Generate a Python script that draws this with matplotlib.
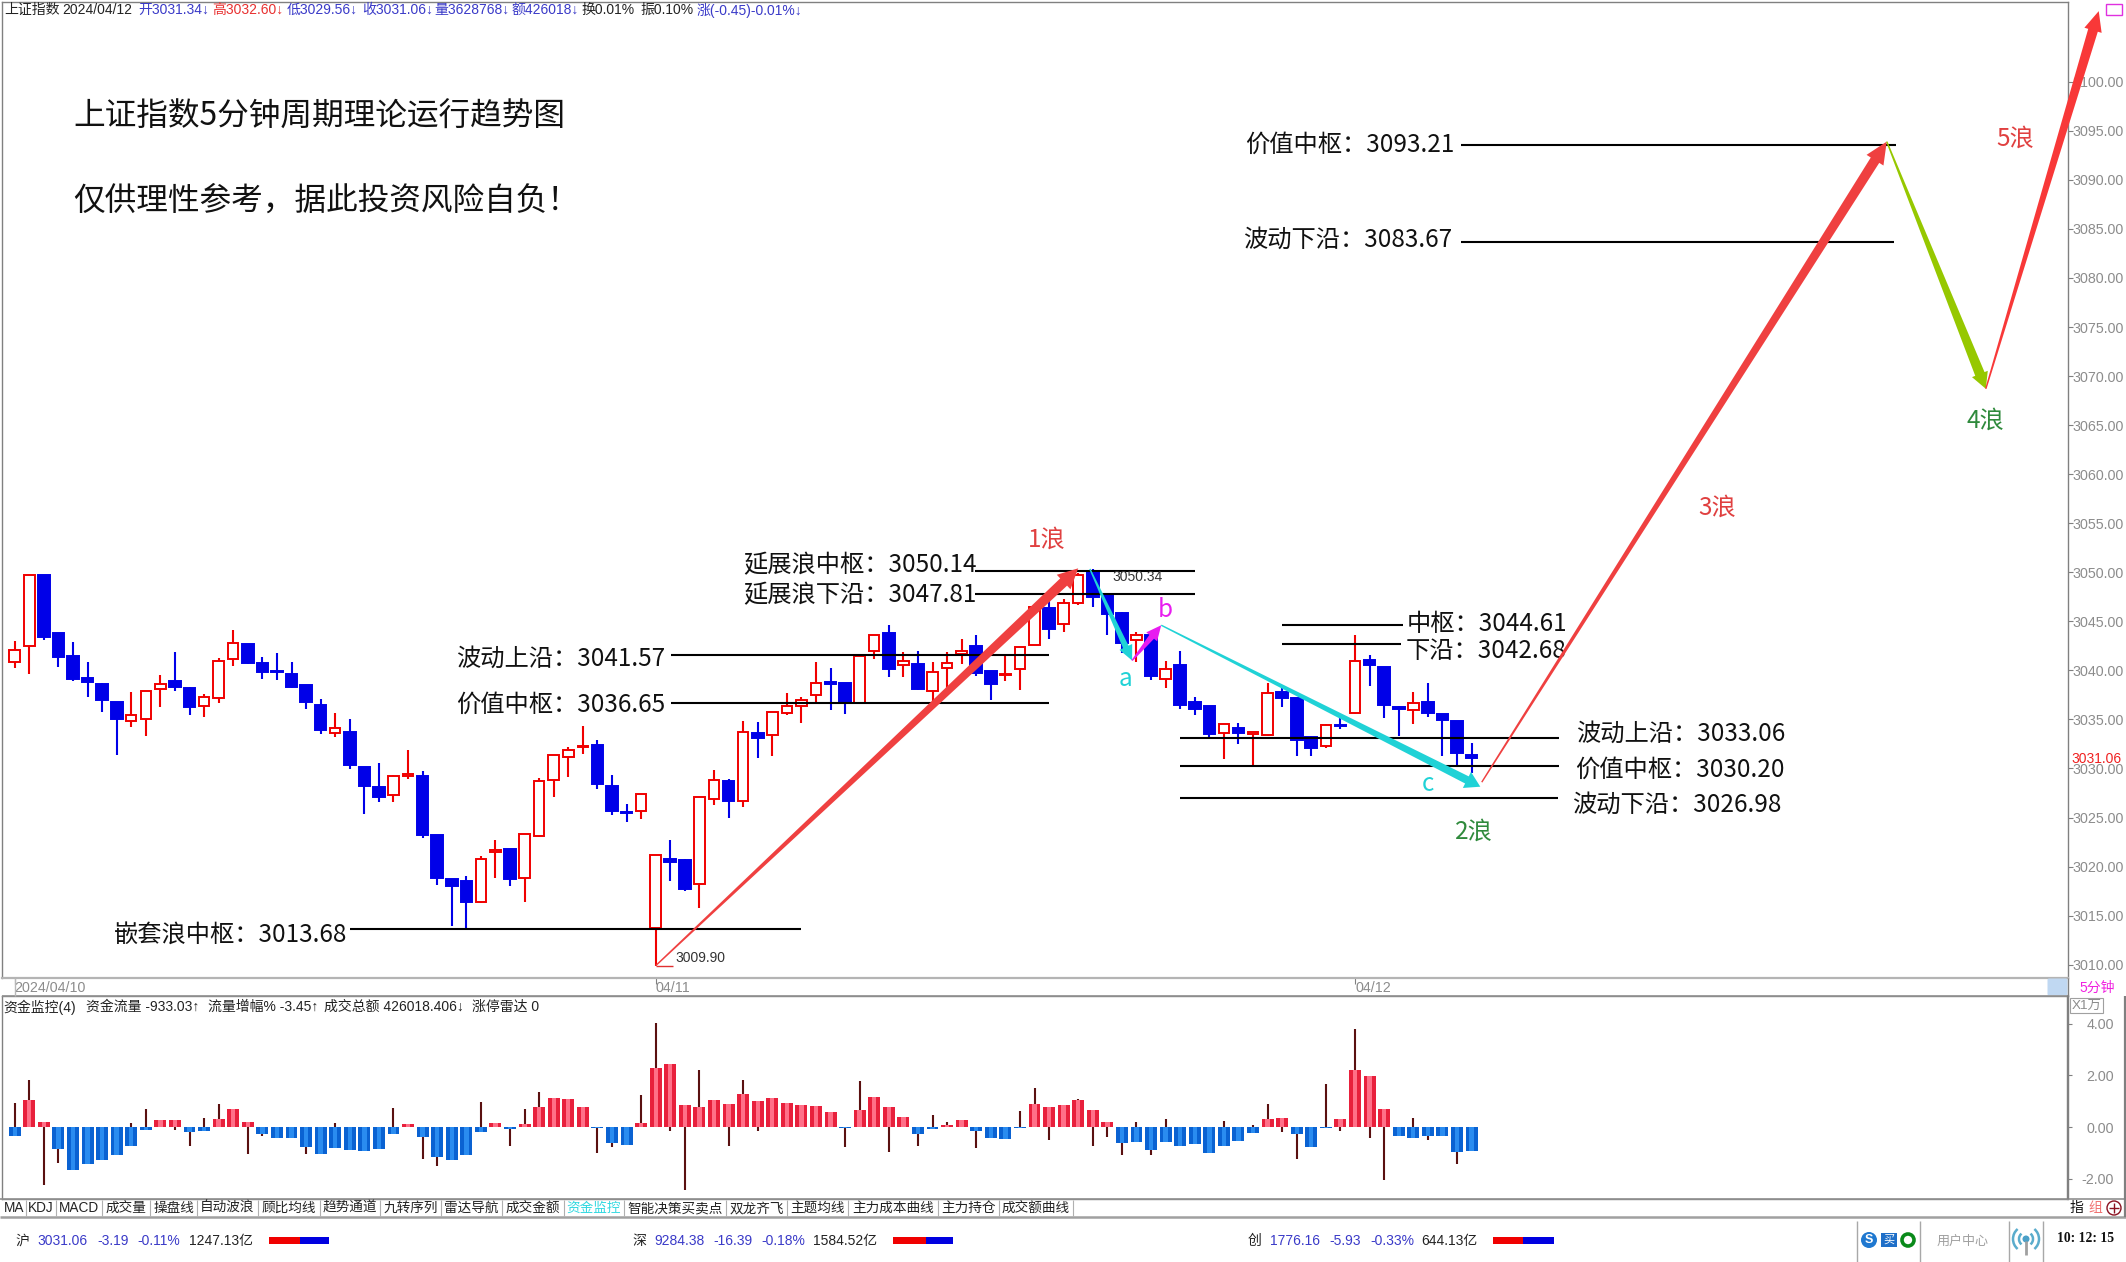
import numpy as np
import matplotlib
matplotlib.use("Agg")
import matplotlib.pyplot as plt
from matplotlib.patches import Polygon, Rectangle, Circle, Arc, FancyBboxPatch

# 5 minute candles
opens = [3040.89, 3042.48, 3049.72, 3043.78, 3041.50, 3039.19, 3038.58, 3036.74, 3034.87, 3035.04,
         3038.07, 3038.88, 3038.17, 3036.37, 3037.18, 3041.19, 3042.69, 3040.79, 3039.90, 3039.66,
         3038.47, 3036.47, 3033.62, 3033.75, 3030.15, 3028.14, 3027.33, 3029.20, 3029.23, 3023.22,
         3018.70, 3018.49, 3016.42, 3021.52, 3021.82, 3018.80, 3023.08, 3028.82, 3031.14, 3032.15,
         3032.43, 3028.25, 3025.53, 3025.63, 3013.70, 3020.81, 3020.64, 3018.22, 3026.92, 3028.76,
         3026.72, 3033.58, 3033.45, 3035.62, 3036.37, 3037.46, 3038.78, 3038.68, 3036.64, 3041.97,
         3043.78, 3040.55, 3040.68, 3037.93, 3040.21, 3041.70, 3042.48, 3039.97, 3039.53, 3040.17,
         3042.62, 3046.39, 3044.73, 3046.87, 3049.99, 3047.68, 3045.81, 3043.10, 3043.61, 3039.12,
         3040.58, 3036.74, 3036.37, 3033.65, 3034.13, 3033.51, 3033.41, 3037.83, 3037.15, 3033.24,
         3032.26, 3034.43, 3035.69, 3041.06, 3040.38, 3036.27, 3035.99, 3036.74, 3035.52, 3034.84,
         3031.34]
closes = [3042.08, 3049.69, 3043.40, 3041.33, 3039.12, 3038.85, 3037.01, 3035.01, 3035.42, 3037.93,
          3038.64, 3038.30, 3036.30, 3037.32, 3040.96, 3042.82, 3040.79, 3039.83, 3039.80, 3038.30,
          3036.78, 3033.89, 3034.13, 3030.35, 3028.18, 3027.06, 3029.23, 3029.40, 3023.25, 3018.83,
          3018.05, 3016.42, 3020.77, 3021.69, 3018.73, 3023.29, 3028.72, 3031.41, 3031.92, 3032.32,
          3028.38, 3025.70, 3025.43, 3027.40, 3021.18, 3020.47, 3017.71, 3027.13, 3028.79, 3026.68,
          3033.72, 3033.11, 3035.72, 3036.40, 3037.01, 3038.75, 3038.58, 3036.74, 3041.46, 3043.64,
          3040.14, 3040.96, 3038.10, 3039.83, 3040.79, 3042.01, 3039.70, 3038.64, 3039.63, 3042.42,
          3046.49, 3044.25, 3046.87, 3049.72, 3047.45, 3045.75, 3042.76, 3043.64, 3039.43, 3040.17,
          3036.50, 3036.10, 3033.48, 3034.50, 3033.62, 3033.68, 3037.73, 3037.15, 3032.90, 3032.09,
          3034.43, 3034.30, 3040.96, 3040.51, 3036.50, 3036.10, 3036.64, 3035.69, 3034.94, 3031.61,
          3031.06]
highs = [3042.99, 3049.69, 3049.72, 3043.78, 3042.89, 3040.89, 3038.75, 3036.74, 3037.76, 3037.93,
         3039.49, 3041.91, 3038.30, 3037.56, 3041.23, 3044.08, 3042.69, 3041.40, 3041.80, 3040.89,
         3038.47, 3037.05, 3035.65, 3035.04, 3030.15, 3030.56, 3029.30, 3031.85, 3029.74, 3023.22,
         3018.70, 3019.04, 3021.08, 3022.71, 3021.82, 3023.29, 3028.99, 3031.41, 3032.15, 3034.36,
         3032.87, 3029.33, 3026.34, 3027.40, 3021.18, 3022.71, 3020.81, 3027.13, 3029.84, 3028.89,
         3034.87, 3034.77, 3035.72, 3037.66, 3037.32, 3040.82, 3040.21, 3038.68, 3041.57, 3043.64,
         3044.63, 3041.91, 3041.97, 3040.85, 3041.91, 3043.20, 3043.57, 3039.97, 3041.57, 3042.42,
         3046.66, 3047.17, 3047.24, 3049.89, 3050.34, 3047.85, 3045.92, 3043.88, 3043.95, 3040.96,
         3042.01, 3037.29, 3036.37, 3034.50, 3034.60, 3033.68, 3038.68, 3038.17, 3037.15, 3033.34,
         3034.53, 3035.11, 3043.57, 3041.57, 3040.38, 3036.40, 3037.83, 3038.68, 3035.52, 3034.84,
         3032.60]
lows = [3040.21, 3039.63, 3043.13, 3040.31, 3038.92, 3037.32, 3035.79, 3031.37, 3034.19, 3033.31,
        3036.30, 3037.93, 3035.48, 3035.21, 3036.64, 3040.45, 3040.65, 3039.12, 3039.02, 3038.20,
        3036.10, 3033.48, 3033.21, 3029.98, 3025.36, 3026.55, 3026.58, 3028.96, 3022.88, 3018.12,
        3013.94, 3013.64, 3016.32, 3018.83, 3018.05, 3016.42, 3022.98, 3027.06, 3029.16, 3031.51,
        3027.87, 3025.26, 3024.54, 3024.88, 3009.90, 3018.56, 3017.54, 3015.74, 3026.28, 3024.98,
        3026.11, 3031.07, 3031.27, 3035.42, 3034.60, 3036.78, 3035.96, 3035.59, 3036.54, 3041.13,
        3039.32, 3039.32, 3038.03, 3036.81, 3038.17, 3040.65, 3039.43, 3036.98, 3038.92, 3038.00,
        3042.55, 3043.23, 3043.91, 3046.66, 3046.49, 3043.61, 3041.74, 3040.89, 3039.02, 3038.24,
        3036.10, 3035.48, 3033.24, 3030.97, 3032.49, 3030.29, 3033.31, 3036.30, 3031.27, 3031.27,
        3032.05, 3034.02, 3035.52, 3038.41, 3035.11, 3033.31, 3034.53, 3035.28, 3031.31, 3030.29,
        3029.56]

# lower panel, 资金监控
flow = [-0.35, 1.06, 0.19, -0.85, -1.67, -1.42, -1.27, -1.09, -0.74, -0.12,
        0.27, 0.27, -0.19, -0.17, 0.31, 0.68, 0.19, -0.27, -0.44, -0.44,
        -0.78, -1.05, -0.83, -0.89, -0.94, -0.85, -0.28, 0.12, -0.39, -1.15,
        -1.28, -1.09, -0.21, 0.16, -0.08, 0.12, 0.76, 1.11, 1.07, 0.76,
        -0.04, -0.62, -0.70, 0.14, 2.29, 2.44, 0.84, 0.76, 1.03, 0.88,
        1.29, 0.99, 1.11, 0.92, 0.84, 0.80, 0.58, -0.03, 0.65, 1.15,
        0.76, 0.37, -0.27, -0.08, 0.08, 0.27, -0.16, -0.44, -0.47, -0.03,
        0.88, 0.76, 0.84, 1.03, 0.65, 0.19, -0.62, -0.58, -0.89, -0.58,
        -0.74, -0.66, -1.01, -0.74, -0.54, -0.23, 0.31, 0.35, -0.27, -0.78,
        -0.03, 0.31, 2.21, 1.98, 0.68, -0.35, -0.43, -0.35, -0.35, -0.96,
        -0.93]
flow_line = [0.92, 1.82, -2.25, -1.41, 0, 0, 0, 0, 0.14, 0.68,
             0, -0.12, -0.74, 0.34, 0.88, 0, -1.03, -0.34, 0, 0,
             -1.03, 0, 0.14, 0, 0, 0, 0.72, 0, -1.23, -1.50,
             0, 0, 0.98, 0, -0.74, 0.68, 1.37, 0, 0, 0,
             -0.99, -0.78, 0, 1.25, 4.04, -0.14, -2.44, 2.21, 0, -0.74,
             1.82, -0.14, 0, 0, 0, 0, 0, -0.76, 1.78, 0,
             -0.96, 0, -0.72, 0.45, 0.19, 0, -0.80, 0, 0, 0.61,
             1.52, -0.49, 0, 1.07, -0.72, -0.37, -1.07, 0.19, -1.07, 0.30,
             0, 0, 0, 0.23, 0, 0.06, 0.88, -0.19, -1.23, 0,
             1.67, -0.16, 3.80, -0.43, -2.05, 0, 0.34, -0.49, 0, -1.45,
             0]

price_ticks = list(range(3010, 3105, 5))
flow_ticks = [-2, 0, 2, 4]
date_ticks = [0, 44, 92]
date_labels = ["2024/04/10", "04/11", "04/12"]

# level, first bar, last bar
levels = [(3013.68, 23.0, 54.0), (3041.57, 45.05, 71.0), (3036.65, 45.05, 71.0),
          (3050.14, 65.9, 81.0), (3047.81, 65.9, 81.0), (3044.61, 87.0, 95.3),
          (3042.68, 87.0, 95.15), (3033.06, 80.0, 106.0), (3030.20, 80.0, 106.0),
          (3026.98, 80.0, 105.9), (3093.60, 99.3, 129.1), (3083.67, 99.3, 129.0)]

wave_bar = [44.0, 73.0, 73.8, 76.7, 78.7, 100.6, 100.7, 128.5, 135.3, 143.05]
wave_price = [3009.90, 3050.40, 3050.34, 3041.00, 3044.60, 3028.14, 3028.60, 3093.90, 3068.70, 3107.20]

tabs = ["MA", "KDJ", "MACD", "成交量", "操盘线", "自动波浪", "顾比均线", "趋势通道", "九转序列", "雷达导航",
        "成交金额", "资金监控", "智能决策买卖点", "双龙齐飞", "主题均线", "主力成本曲线", "主力持仓", "成交额曲线"]
tab_edges = [2, 26, 56, 102, 150, 197, 258, 320, 380, 441, 502, 564, 624, 726, 787, 848, 938, 999, 1073]

RED = "#f00000"
BLUE = "#0000e8"
GRAY = "#808080"
TICK = "#8c8c8c"
NAVY = "#3a3ac8"
LATIN = ["Liberation Sans", "Noto Sans CJK SC", "DejaVu Sans"]
CJK = ["Noto Sans CJK SC", "DejaVu Sans"]
W, H = 2126, 1262

plt.rcParams["font.family"] = LATIN
fig = plt.figure(figsize=(W / 100, H / 100), dpi=100)


def pixel_rect(x0, y0, x1, y1):
    return [x0 / W, 1 - y1 / H, (x1 - x0) / W, (y1 - y0) / H]


# main panel
ax = fig.add_axes(pixel_rect(2, 2, 2068, 978))
ax.set_xlim(-0.872, 140.94)
ax.set_ylim(3008.64, 3108.13)

bars = np.arange(len(opens))
for i in bars:
    up = closes[i] >= opens[i]
    color = RED if up else BLUE
    ax.vlines(i, lows[i], highs[i], color=color, lw=1.5, zorder=2)
    ax.bar(i, closes[i] - opens[i], bottom=opens[i], width=0.72 if up else 0.8,
           facecolor="white" if up else color, edgecolor=color, lw=1.4, zorder=3)

for level, start, end in levels:
    ax.hlines(level, start, end, color="black", lw=1.5, zorder=4)
ax.hlines(wave_price[0], wave_bar[0], wave_bar[0] + 1.2, color="#e03030", lw=1, zorder=4)

ax.yaxis.tick_right()
ax.set_yticks(price_ticks)
ax.set_yticklabels([f"{p:.2f}" for p in price_ticks])
ax.tick_params(axis="y", length=3.5, width=0.8, color=GRAY, labelcolor=TICK, labelsize=10.3, pad=0)
ax.set_xticks(date_ticks)
ax.set_xticklabels(date_labels, ha="left")
ax.tick_params(axis="x", length=4.5, width=0.8, color=GRAY, labelcolor=TICK, labelsize=10.3, pad=-2.5)
for tick in ax.get_xticklabels():
    tick.set_x(tick.get_position()[0] + 0.15)
for side in ["top", "left", "right"]:
    ax.spines[side].set_color(GRAY)
    ax.spines[side].set_linewidth(1)
ax.spines["bottom"].set_color("#b4b4b4")
ax.spines["bottom"].set_linewidth(1.6)

# lower panel
ax2 = fig.add_axes(pixel_rect(2, 996, 2068, 1199))
ax2.set_xlim(-0.872, 140.94)
ax2.set_ylim(-2.79, 5.08)
ax2.vlines(bars, 0, flow_line, color="#5a1010", lw=1.5, zorder=2)
flow_colors = ["#e8203c" if v >= 0 else "#0a62d2" for v in flow]
shine_colors = ["#ff7088" if v >= 0 else "#2a8cf0" for v in flow]
ax2.bar(bars, flow, width=0.82, color=flow_colors, zorder=3)
ax2.bar(bars, flow, width=0.3, color=shine_colors, zorder=4)
ax2.yaxis.tick_right()
ax2.set_yticks(flow_ticks)
ax2.set_yticklabels([f"{v:.2f}" for v in flow_ticks], ha="right")
ax2.tick_params(axis="y", length=3, width=0.8, color=GRAY, labelcolor=TICK, labelsize=10.3, pad=30)
ax2.set_xticks([])
for side in ax2.spines:
    ax2.spines[side].set_color(GRAY)
    ax2.spines[side].set_linewidth(1)
ax2.spines["right"].set_linewidth(1.6)

# everything placed by pixel goes on a full size overlay
ov = fig.add_axes([0, 0, 1, 1], facecolor="none")
ov.set_xlim(0, W)
ov.set_ylim(H, 0)
ov.axis("off")


def px(bar, price):
    return ov.transData.inverted().transform(ax.transData.transform((bar, price)))


def label(x, y, text, size=10, color="#222222", family=LATIN, ha="left", **kw):
    ov.text(x, y, text, fontsize=size, color=color, family=family, ha=ha, va="center", **kw)


def rule(x0, y0, x1, y1, color=GRAY, lw=1.0):
    ov.plot([x0, x1], [y0, y1], color=color, lw=lw, solid_capstyle="butt", clip_on=False)


def wave_arrow(i, color, shaft, head, head_len):
    p0 = px(wave_bar[i], wave_price[i])
    p1 = px(wave_bar[i + 1], wave_price[i + 1])
    d = (p1 - p0) / np.hypot(*(p1 - p0))
    n = np.array([-d[1], d[0]])
    neck = p1 - d * head_len
    pts = [p0 + n * 0.7, neck + n * shaft / 2, neck + n * head / 2, p1,
           neck - n * head / 2, neck - n * shaft / 2, p0 - n * 0.7]
    ov.add_patch(Polygon(pts, closed=True, facecolor=color, edgecolor="none", zorder=6))


wave_arrow(0, "#ef4040", 10, 20, 20)
wave_arrow(2, "#20d2d6", 6, 14, 15)
wave_arrow(3, "#e81cf0", 6, 14, 15)
wave_arrow(4, "#20d2d6", 8, 18, 15)
wave_arrow(6, "#ef4040", 10, 20, 22)
wave_arrow(7, "#96c800", 10, 17, 16)
wave_arrow(8, "#f83838", 10, 18, 20)

# big notes
label(73, 117, "上证指数5分钟周期理论运行趋势图", 22.8, "#111111", CJK)
label(73, 201, "仅供理性参考，据此投资风险自负！", 22.8, "#111111", CJK)

big_labels = [(114, 935, "嵌套浪中枢：3013.68"), (456, 659, "波动上沿：3041.57"), (456, 705, "价值中枢：3036.65"),
              (743, 565, "延展浪中枢：3050.14"), (743, 595, "延展浪下沿：3047.81"),
              (1407, 624, "中枢：3044.61"), (1406, 651, "下沿：3042.68"),
              (1576, 734, "波动上沿：3033.06"), (1575, 770, "价值中枢：3030.20"), (1572, 805, "波动下沿：3026.98"),
              (1245, 145, "价值中枢：3093.21"), (1243, 240, "波动下沿：3083.67")]
for x, y, text in big_labels:
    label(x, y, text, 17.5, "#111111", CJK)

wave_labels = [(1047, 540, "1浪", "#e04040"), (1474, 832, "2浪", "#2f8a3c"), (1717, 508, "3浪", "#e04040"),
               (1985, 421, "4浪", "#2f8a3c"), (2015, 139, "5浪", "#e04040"), (1125, 679, "a", "#20d2d6"),
               (1165, 610, "b", "#e81cf0"), (1428, 784, "c", "#20d2d6")]
for x, y, text, color in wave_labels:
    label(x, y, text, 17.5, color, CJK, ha="center")

label(675, 958, "3009.90", 10, "#333333")
label(1112, 577, "3050.34", 10, "#333333")
label(2071, 759, "3031.06", 10, "#f02020")

# header line
header = [(4, "上证指数", "#222222"), (62, "2024/04/12", "#222222"), (138, "开3031.34↓", NAVY), (212, "高3032.60↓", "#e83030"),
          (287, "低3029.56↓", NAVY), (362, "收3031.06↓", NAVY), (434, "量3628768↓", NAVY), (511, "额426018↓", NAVY),
          (581, "换0.01%", "#222222"), (640, "振0.10%", "#222222"), (697, "涨(-0.45)-0.01%↓", NAVY)]
for x, text, color in header:
    label(x, 10, text, 10, color)
ov.add_patch(Rectangle((2106, 4), 16, 11, facecolor="white", edgecolor="#e030e0", lw=1, zorder=7))
rule(2118, 4, 2118, 15, "#e030e0", 1)

# date strip
ov.add_patch(FancyBboxPatch((2049, 980), 17, 14, boxstyle="round,pad=1.5", facecolor="#c0d8f2", edgecolor="none"))
rule(2, 996, 2068, 996, "#909090", 1.2)
rule(2068, 978, 2068, 996, GRAY, 1)
rule(15, 978, 15, 996, "#b8b8b8", 1)
label(2097, 988, "5分钟", 10, "#f020e0", ha="center")

# lower panel texts
caption = [(3, "资金监控(4)"), (86, "资金流量 -933.03↑"), (208, "流量增幅% -3.45↑"), (324, "成交总额 426018.406↓"), (472, "涨停雷达 0")]
for x, text in caption:
    label(x, 1007, text, 10)
ov.add_patch(Rectangle((2070, 998), 33, 15, facecolor="white", edgecolor="#a0a0a0", lw=0.8))
label(2072, 1006, "X1万", 9.7, TICK)

# indicator tabs
rule(0, 1199, W, 1199, "#909090", 1.2)
rule(0, 1217, W, 1217, "#a0a0a0", 1.8)
rule(2125, 996, 2125, 1217, GRAY, 1.6)
rule(2068, 996, 2068, 1199, GRAY, 1.6)
for n, tab in enumerate(tabs):
    rule(tab_edges[n + 1], 1200, tab_edges[n + 1], 1216, "#b0b0b0", 0.8)
    label((tab_edges[n] + tab_edges[n + 1]) / 2, 1208, tab, 9.8,
          "#30d8e0" if tab == "资金监控" else "#222222", ha="center")
label(2077, 1208, "指", 10, "#111111", ha="center")
label(2095, 1208, "组", 10, "#f07070", ha="center")
ov.add_patch(Circle((2114, 1208), 7, facecolor="white", edgecolor="#8a1020", lw=1))
rule(2109, 1208, 2119, 1208, "#8a1020", 1)
rule(2114, 1203, 2114, 1213, "#8a1020", 1)

# index status bar
status = [(15, "沪", "#222222"), (37, "3031.06", NAVY), (97, "-3.19", NAVY), (137, "-0.11%", NAVY), (189, "1247.13亿", "#222222"),
          (632, "深", "#222222"), (654, "9284.38", NAVY), (713, "-16.39", NAVY), (761, "-0.18%", NAVY), (813, "1584.52亿", "#222222"),
          (1248, "创", "#222222"), (1270, "1776.16", NAVY), (1329, "-5.93", NAVY), (1370, "-0.33%", NAVY), (1421, "644.13亿", "#222222")]
for x, text, color in status:
    label(x, 1241, text, 10, color)
for x0, x1, x2 in [(269, 300, 329), (893, 926, 953), (1493, 1523, 1554)]:
    ov.add_patch(Rectangle((x0, 1237), x1 - x0, 7, facecolor="#f00000", edgecolor="none"))
    ov.add_patch(Rectangle((x1, 1237), x2 - x1, 7, facecolor="#0000e0", edgecolor="none"))

for x in [1857, 1920, 2009, 2043]:
    rule(x, 1221, x, 1262, "#a8a8a8", 1)
ov.add_patch(Circle((1869, 1240), 8, facecolor="#1f78d0", edgecolor="none"))
label(1869, 1240, "S", 9, "white", ha="center", fontweight="bold")
ov.add_patch(Rectangle((1881, 1233), 16, 14, facecolor="#1f6fc8", edgecolor="none"))
label(1889, 1240, "买", 8, "white", CJK, ha="center")
ov.add_patch(Circle((1908, 1240), 6, facecolor="white", edgecolor="#0a8a1a", lw=2.6))
label(1963, 1241, "用户中心", 9.4, "#a0a0a0", CJK, ha="center")
ov.add_patch(Circle((2026, 1239), 3.5, facecolor="#4aa0c8", edgecolor="none"))
rule(2026, 1241, 2026, 1255, "#a0a0a0", 2)
for r in [14, 26]:
    ov.add_patch(Arc((2026, 1239), r, r, theta1=-50, theta2=50, edgecolor="#5aaccc", lw=1.8))
    ov.add_patch(Arc((2026, 1239), r, r, theta1=130, theta2=230, edgecolor="#5aaccc", lw=1.8))
label(2086, 1239, "10: 12: 15", 9.8, "#111111", ["Liberation Serif"], ha="center", fontweight="bold")

fig.savefig("out.png", dpi=100)
